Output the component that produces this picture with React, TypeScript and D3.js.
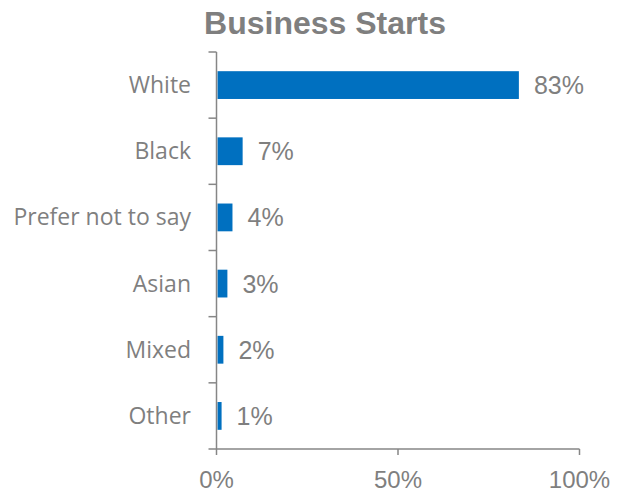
import React from "react";
import * as d3 from "d3";

const categories = ["White", "Black", "Prefer not to say", "Asian", "Mixed", "Other"];
const values = [83.3, 7.2, 4.4, 3.0, 1.9, 1.4];
const xTicks = [0, 50, 100];

const W = 618;
const H = 492;
const left = 216.5;
const right = 579.5;
const top = 52;
const bottom = 449;

export default function App() {
  const x = d3.scaleLinear().domain([0, 100]).range([left, right]);
  const y = d3.scaleBand<string>().domain(categories).range([top, bottom]).paddingInner(0.58).paddingOuter(0.29);
  const bandStep = (bottom - top) / categories.length;
  const gray = "#7f7f7f";
  const axisColor = "#868686";
  return (
    <svg width={W} height={H} style={{ position: "absolute", left: 0, top: 0 }}>
      <rect width={W} height={H} fill="#fff" />
      <text x={325} y={34} textAnchor="middle" fontFamily="Liberation Sans, Arial, sans-serif" fontWeight="bold" fontSize={32} fill={gray}>
        Business Starts
      </text>
      {categories.map((c, i) => {
        const v = values[i];
        const yc = (y(c) as number) + y.bandwidth() / 2;
        return (
          <g key={c}>
            <rect x={x(0) + 1} y={y(c)} width={x(v) - x(0) - 1} height={y.bandwidth()} fill="#0070C0" />
            <text x={x(v) + 15} y={yc} dy="0.36em" fontFamily="Liberation Sans, Arial, sans-serif" fontSize={25} fill={gray}>
              {Math.round(v)}%
            </text>
            <text x={191} y={yc} dy="0.35em" textAnchor="end" fontFamily="Open Sans, sans-serif" fontSize={23} fill={gray}>
              {c}
            </text>
          </g>
        );
      })}
      <line x1={left} x2={left} y1={top} y2={bottom} stroke={axisColor} strokeWidth={1.5} />
      {d3.range(categories.length + 1).map((i) => (
        <line key={"yt" + i} x1={left - 8} x2={left} y1={top + i * bandStep} y2={top + i * bandStep} stroke={axisColor} strokeWidth={1.5} />
      ))}
      <line x1={left} x2={right} y1={bottom} y2={bottom} stroke={axisColor} strokeWidth={1.5} />
      {xTicks.map((t) => (
        <g key={"xt" + t}>
          <line x1={x(t)} x2={x(t)} y1={bottom} y2={bottom + 6} stroke={axisColor} strokeWidth={1.5} />
          <text x={x(t)} y={488} textAnchor="middle" fontFamily="Liberation Sans, Arial, sans-serif" fontSize={24} fill={gray}>
            {t}%
          </text>
        </g>
      ))}
    </svg>
  );
}
